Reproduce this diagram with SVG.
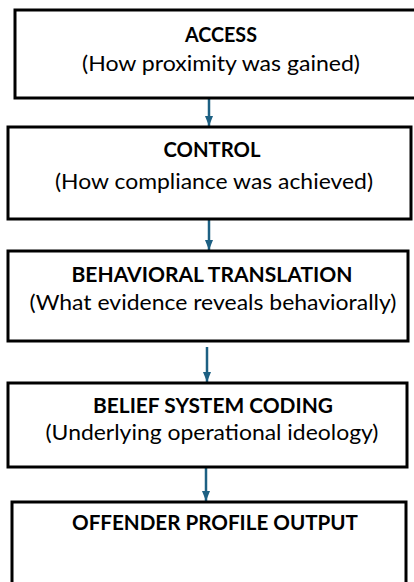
<svg xmlns="http://www.w3.org/2000/svg" width="414" height="582" viewBox="0 0 414 582">
<defs>
<style>
.box{fill:#ffffff;stroke:#000000;stroke-width:3}
.t{font-family:Lato,"Open Sans","Liberation Sans",sans-serif;font-size:20px;font-weight:bold;fill:#000;text-anchor:middle}
.s{font-family:Lato,"Open Sans","Liberation Sans",sans-serif;font-size:21px;fill:#000;text-anchor:middle}
.c{stroke:#1d6083;stroke-width:2.5;fill:none}
</style>
<marker id="ah" viewBox="0 0 10 8" refX="10" refY="4" markerWidth="10" markerHeight="8" markerUnits="userSpaceOnUse" orient="auto">
<path d="M0,0 L10,4 L0,8 Z" fill="#1d6083"/>
</marker>
</defs>
<rect width="414" height="582" fill="#ffffff"/>
<g id="connectors">
<line class="c" x1="209" y1="99" x2="209" y2="126" marker-end="url(#ah)"/>
<line class="c" x1="209" y1="220" x2="209" y2="250" marker-end="url(#ah)"/>
<line class="c" x1="207" y1="347" x2="207" y2="382" marker-end="url(#ah)"/>
<line class="c" x1="206" y1="468" x2="206" y2="501" marker-end="url(#ah)"/>
</g>
<g id="access">
<rect class="box" x="15" y="10" width="420" height="88"/>
<text class="t" x="221" y="42" textLength="72" lengthAdjust="spacingAndGlyphs">ACCESS</text>
<text class="s" x="221" y="71" textLength="278" lengthAdjust="spacingAndGlyphs">(How proximity was gained)</text>
</g>
<g id="control">
<rect class="box" x="8" y="127" width="403" height="92"/>
<text class="t" x="212" y="157" textLength="97" lengthAdjust="spacingAndGlyphs">CONTROL</text>
<text class="s" x="214" y="189" textLength="318" lengthAdjust="spacingAndGlyphs">(How compliance was achieved)</text>
</g>
<g id="behavioral">
<rect class="box" x="8" y="251" width="400" height="90"/>
<text class="t" x="212" y="282" textLength="281" lengthAdjust="spacingAndGlyphs">BEHAVIORAL TRANSLATION</text>
<text class="s" x="213" y="310" textLength="367" lengthAdjust="spacingAndGlyphs">(What evidence reveals behaviorally)</text>
</g>
<g id="belief">
<rect class="box" x="8" y="383" width="399" height="84"/>
<text class="t" x="213" y="413" textLength="240" lengthAdjust="spacingAndGlyphs">BELIEF SYSTEM CODING</text>
<text class="s" x="212" y="440" textLength="333" lengthAdjust="spacingAndGlyphs">(Underlying operational ideology)</text>
</g>
<g id="output">
<rect class="box" x="12" y="502" width="394" height="100"/>
<text class="t" x="215" y="530" textLength="286" lengthAdjust="spacingAndGlyphs">OFFENDER PROFILE OUTPUT</text>
</g>
</svg>
